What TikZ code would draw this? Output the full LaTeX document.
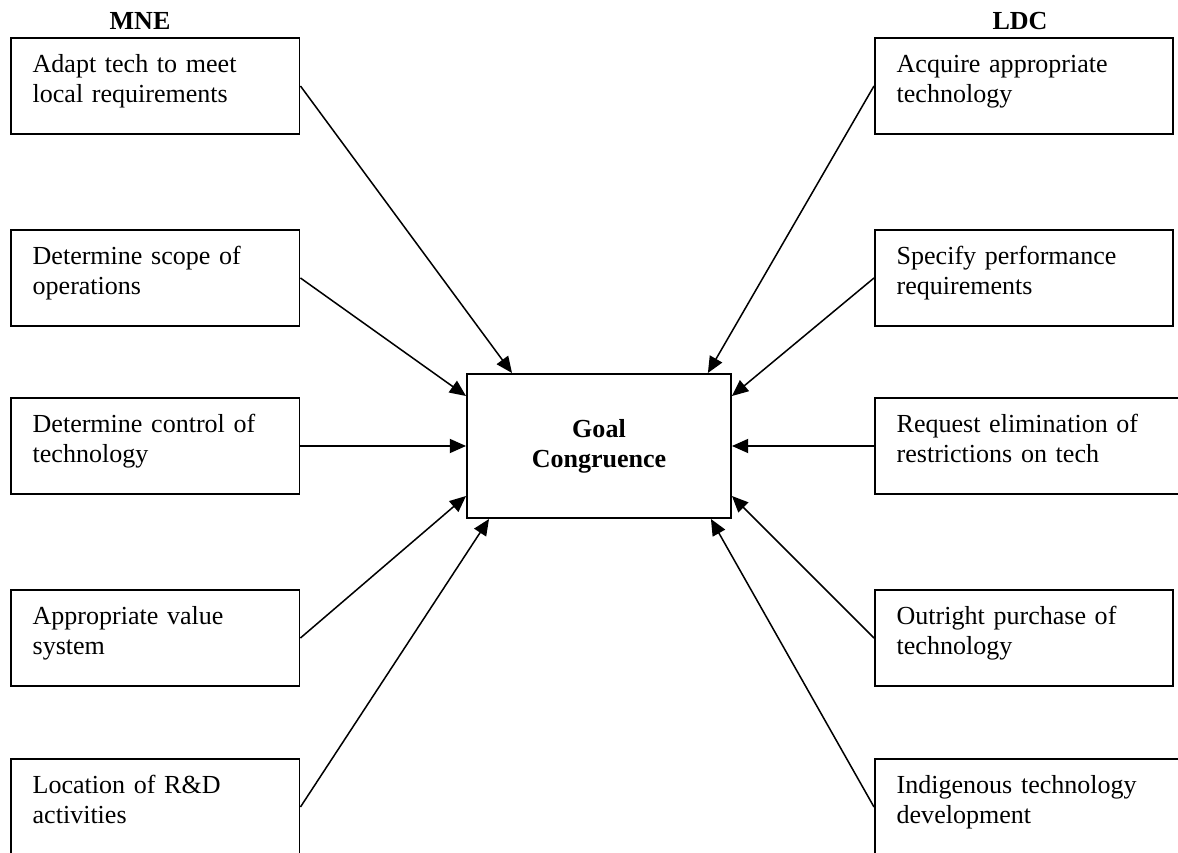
\documentclass[tikz,border=0pt]{standalone}
\usepackage{fontspec}
\setmainfont{Liberation Serif}
\usetikzlibrary{positioning,arrows.meta}

\tikzset{
  item/.style={draw,line width=0.9pt,rectangle,anchor=west,text width=113pt,inner xsep=10pt,
    minimum height=44.3pt,align=left,font=\fontsize{12}{13.8}\selectfont,
    execute at end node={\rule[-6.7pt]{0pt}{0pt}}},
  ritem/.style={item,text width=117.4pt},
  wideitem/.style={item,text width=160pt},
  goalbox/.style={draw,line width=0.9pt,rectangle,minimum width=121.7pt,minimum height=66.4pt,
    align=center,font=\fontsize{12}{13.8}\selectfont\bfseries},
  head/.style={anchor=base,font=\fontsize{12}{13.8}\selectfont\bfseries},
  link/.style={-{Triangle[length=7.5pt,width=6.5pt]},line width=0.7pt}
}

\begin{document}
\begin{tikzpicture}[x=0.461pt,y=-0.461pt]
  \clip (0,0) rectangle (1178,853);
  % column heads
  \node[head] (mne) at (140,30) {MNE};
  \node[head] (ldc) at (1020,30) {LDC};
  % centre
  \node[goalbox] (goal) at (599,446) {Goal\\Congruence};
  % MNE side
  \node[item] (mne1) at (10,86) {Adapt tech to meet\\local requirements};
  \node[item] (mne2) at (10,278) {Determine scope of\\operations};
  \node[item] (mne3) at (10,446) {Determine control of\\technology};
  \node[item] (mne4) at (10,638) {Appropriate value\\system};
  \node[item] (mne5) at (10,807) {Location of R\&D\\activities};
  % LDC side
  \node[ritem] (ldc1) at (874,86) {Acquire appropriate\\technology};
  \node[ritem] (ldc2) at (874,278) {Specify performance\\requirements};
  \node[wideitem] (ldc3) at (874,446) {Request elimination of\\restrictions on tech};
  \node[ritem] (ldc4) at (874,638) {Outright purchase of\\technology};
  \node[wideitem] (ldc5) at (874,807) {Indigenous technology\\development};
  % arrows into the centre
  \draw[link] (mne1.east) -- ([xshift=21.2pt]goal.north west);
  \draw[link] (mne2.east) -- ([yshift=-10.6pt]goal.north west);
  \draw[link] (mne3.east) -- (goal.west);
  \draw[link] (mne4.east) -- ([yshift=10.6pt]goal.south west);
  \draw[link] (mne5.east) -- ([xshift=10.6pt]goal.south west);
  \draw[link] (ldc1.west) -- ([xshift=-11.1pt]goal.north east);
  \draw[link] (ldc2.west) -- ([yshift=-10.6pt]goal.north east);
  \draw[link] (ldc3.west) -- (goal.east);
  \draw[link] (ldc4.west) -- ([yshift=10.6pt]goal.south east);
  \draw[link] (ldc5.west) -- ([xshift=-9.7pt]goal.south east);
\end{tikzpicture}
\end{document}
